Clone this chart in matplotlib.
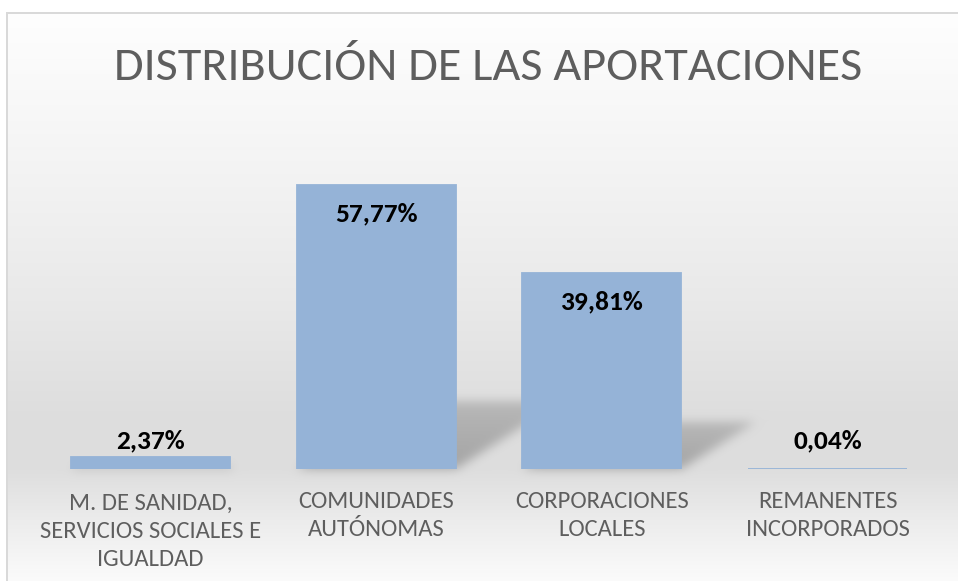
import numpy as np
import matplotlib
matplotlib.use("Agg")
import matplotlib.pyplot as plt

# data
categories = ["M. DE SANIDAD,\nSERVICIOS SOCIALES E\nIGUALDAD",
              "COMUNIDADES\nAUTÓNOMAS",
              "CORPORACIONES\nLOCALES",
              "REMANENTES\nINCORPORADOS"]
values = [2.37, 57.77, 39.81, 0.04]
value_labels = ["2,37%", "57,77%", "39,81%", "0,04%"]
title = "DISTRIBUCIÓN DE LAS APORTACIONES"

W, H = 958, 581
bar_color = "#95B3D7"
text_gray = "#5E5E5E"
bw = 0.705

plt.rcParams['font.family'] = ['Carlito', 'DejaVu Sans']

fig = plt.figure(figsize=(W / 100, H / 100), dpi=100)
bg = fig.add_axes([0, 0, 1, 1], zorder=0)
bg.set_axis_off()
ax = fig.add_axes([37.6 / W, (H - 469) / H, 902.8 / W, 329 / H], zorder=2)
ax.patch.set_alpha(0)
x = np.arange(len(values))
ax.set_xlim(-0.5, len(values) - 0.5)
ax.set_ylim(0, 66.9)
ax.set_axis_off()

T = ax.transData
ppd = T.transform((0, 1))[1] - T.transform((0, 0))[1]

# background gradient + frame + blurred perspective shadows
rows = np.arange(H)[:, None] * np.ones((1, W))
cols = np.ones((H, 1)) * np.arange(W)[None, :]
gy = np.interp(np.arange(H), [12, 120, 200, 300, 420, 470, 520, 581],
               [254, 247, 241, 233, 221, 222, 236, 251])
gray = gy[:, None] * np.ones((1, W))

py = H - rows - 0.5
px = cols + 0.5
mask = np.zeros((H, W))
for xi, v in zip(x, values):
    l, b = T.transform((xi - bw / 2, 0))
    r, t = T.transform((xi + bw / 2, v))
    sh = 0.24 * (t - b)
    yy = py - b
    shift = 1.57 * yy
    inside = (yy >= 0) & (yy <= sh) & (px >= l + shift) & (px <= r + shift)
    fade = 1 - 0.35 * np.clip(yy / max(sh, 1), 0, 1)
    mask = np.maximum(mask, inside * fade)

s = 5.0
k = np.exp(-0.5 * (np.arange(-15, 16) / s) ** 2)
k /= k.sum()
for axis in (0, 1):
    pad = np.pad(mask, [(15, 15) if a == axis else (0, 0) for a in (0, 1)], mode="edge")
    out = np.zeros_like(mask)
    for i, kv in enumerate(k):
        if axis == 0:
            out += kv * pad[i:i + H, :]
        else:
            out += kv * pad[:, i:i + W]
    mask = out

gray = gray * (1 - 0.26 * mask)
gray[(rows < 12) | (cols < 6)] = 255
gray[(rows >= 12) & (rows < 14) & (cols >= 6)] = 217
gray[(rows >= 12) & (cols >= 6) & (cols < 8)] = 217
img = np.clip(gray, 0, 255).astype(np.uint8)
img = np.dstack([img, img, img])
bg.imshow(img, extent=(0, W, 0, H), origin="upper", aspect="auto", interpolation="nearest")
bg.set_xlim(0, W)
bg.set_ylim(0, H)

# bars
ax.bar(x, values, width=bw, color=bar_color, edgecolor=bar_color, lw=1.3, zorder=3)

for xi, v, lab in zip(x, values, value_labels):
    h_px = v * ppd
    ly = max(h_px - 29, 28) / ppd
    ax.text(xi, ly, lab, ha="center", va="center", fontsize=19.7,
            fontweight="bold", color="black", zorder=4)

for xi, cat in zip(x, categories):
    n = cat.count("\n")
    ax.text(xi, -(507 + 29.5 * n - 469) / ppd, cat, ha="center", va="baseline",
            multialignment="center", fontsize=17.7, color=text_gray, linespacing=1.42)

fig.text(488.5 / W, (H - 80) / H, title, ha="center", va="baseline",
         fontsize=34.7, color=text_gray)

fig.savefig("out.png", dpi=100)
